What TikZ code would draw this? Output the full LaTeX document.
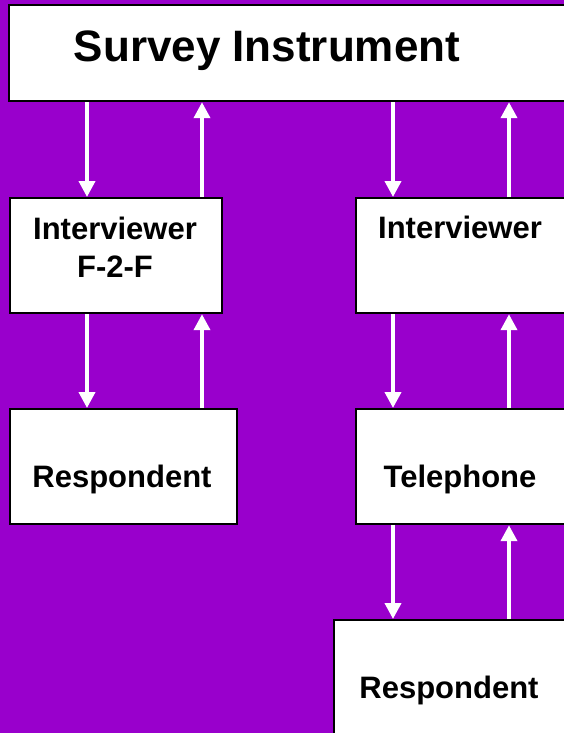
\documentclass[tikz,border=0pt]{standalone}
\usepackage{fontspec}
\setmainfont{Liberation Sans}
\usepackage{tikz}
\usetikzlibrary{arrows.meta}

\definecolor{bgpurple}{HTML}{9900CC}

\tikzset{
  box/.style={draw=black, fill=white, line width=2.2pt, anchor=north west,
    inner sep=0pt},
  lbl/.style={font=\bfseries\fontsize{31}{38}\selectfont, anchor=base,
    align=center, inner sep=0pt},
  flow/.style={draw=white, line width=3.8pt,
    -{Triangle[width=16pt,length=16pt]}}
}

\begin{document}
\begin{tikzpicture}[x=1pt, y=-1pt]
  \clip (0,0) rectangle (564,733);
  \fill[bgpurple] (0,0) rectangle (564,733);

  % boxes
  \node[box, minimum width=600pt, minimum height=96pt]  (survey) at (8,4) {};
  \node[box, minimum width=212pt, minimum height=115pt] (iv1)    at (9,197) {};
  \node[box, minimum width=227pt, minimum height=115pt] (resp1)  at (9,408) {};
  \node[box, minimum width=260pt, minimum height=115pt] (iv2)    at (355,197) {};
  \node[box, minimum width=260pt, minimum height=115pt] (tel)    at (355,408) {};
  \node[box, minimum width=280pt, minimum height=200pt] (resp2)  at (333,619) {};

  % texts
  \node[lbl, font=\bfseries\fontsize{44}{50}\selectfont] (tsurvey) at (267,62) {Survey Instrument};
  \node[lbl] (tiv1)   at (115,277) {Interviewer\\F-2-F};
  \node[lbl] (tresp1) at (122,487) {Respondent};
  \node[lbl] (tiv2)   at (460,238) {Interviewer};
  \node[lbl] (ttel)   at (460,487) {Telephone};
  \node[lbl] (tresp2) at (449,698) {Respondent};

  % left column
  \draw[flow] ([xshift=78pt]iv1.north west |- survey.south) -- ([xshift=78pt]iv1.north west);
  \draw[flow] ([xshift=193pt]iv1.north west) -- ([xshift=193pt]iv1.north west |- survey.south);
  \draw[flow] ([xshift=78pt]iv1.south west) -- ([xshift=78pt]resp1.north west);
  \draw[flow] ([xshift=193pt]resp1.north west) -- ([xshift=193pt]iv1.south west);

  % right column
  \draw[flow] ([xshift=38pt]iv2.north west |- survey.south) -- ([xshift=38pt]iv2.north west);
  \draw[flow] ([xshift=154pt]iv2.north west) -- ([xshift=154pt]iv2.north west |- survey.south);
  \draw[flow] ([xshift=38pt]iv2.south west) -- ([xshift=38pt]tel.north west);
  \draw[flow] ([xshift=154pt]tel.north west) -- ([xshift=154pt]iv2.south west);
  \draw[flow] ([xshift=38pt]tel.south west) -- ([xshift=38pt]tel.south west |- resp2.north);
  \draw[flow] ([xshift=154pt]tel.south west |- resp2.north) -- ([xshift=154pt]tel.south west);
\end{tikzpicture}
\end{document}
